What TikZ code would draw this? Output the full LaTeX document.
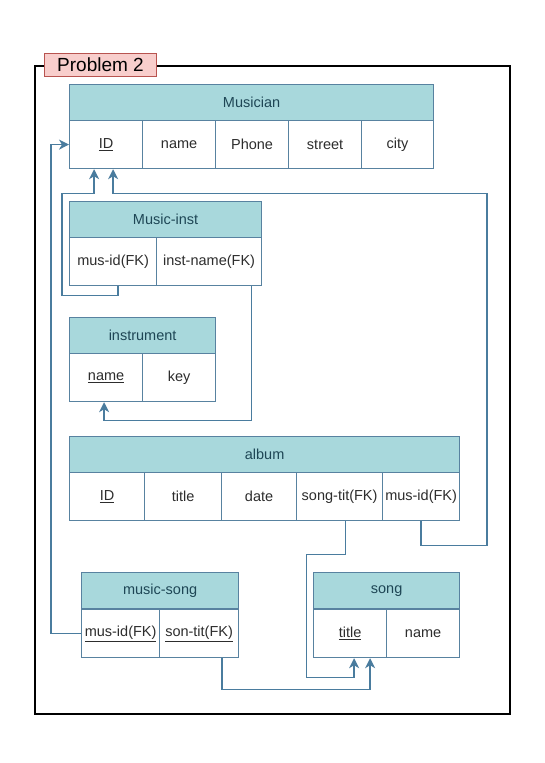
\documentclass[tikz,border=0pt]{standalone}
\usepackage{fontspec}
\setmainfont{Liberation Sans}
\usetikzlibrary{
    arrows.meta,        % arrow tips
    calc,               % coordinate calculations
    positioning         % relative placement
}

\definecolor{headfill}{RGB}{168,216,220}
\definecolor{cellline}{RGB}{88,130,160}
\definecolor{fkline}{RGB}{74,124,158}
\definecolor{headtext}{RGB}{30,70,85}
\definecolor{celltext}{RGB}{45,45,45}
\definecolor{tagfill}{RGB}{248,206,204}
\definecolor{tagline}{RGB}{184,84,80}

\tikzset{
    tabhead/.style={draw=cellline, line width=1.2pt, fill=headfill, text=headtext,
        anchor=north west, inner sep=0pt, minimum height=36,
        font=\fontsize{14.5}{17}\selectfont},
    tabcell/.style={draw=cellline, line width=1.2pt, fill=white, text=celltext,
        anchor=north west, inner sep=0pt, minimum height=48,
        font=\fontsize{14.5}{17}\selectfont},
    fk/.style={draw=fkline, line width=1.3pt,
        -{Stealth[length=10pt, width=10pt, inset=3pt]}}
}

\begin{document}
\begin{tikzpicture}[x=1pt, y=-1pt]
    \useasboundingbox[fill=white] (0,0) rectangle (544,763);

    % frame of the problem
    \draw[line width=1.3pt] (35,66) rectangle (510,714);
    \node[draw=tagline, fill=tagfill, line width=1pt, anchor=north west,
        minimum width=112, minimum height=23, inner sep=0pt,
        font=\fontsize{19}{22}\selectfont] (tag) at (44,53) {Problem 2};

    % Musician
    \node[tabhead, minimum width=364] (mus) at (69,84) {Musician};
    \node[tabcell, minimum width=73] (mID) at (69,120) {\underline{ID}};
    \node[tabcell, minimum width=73] (mName) at (142,120) {name};
    \node[tabcell, minimum width=73] (mPhone) at (215,120) {Phone};
    \node[tabcell, minimum width=73] (mStreet) at (288,120) {street};
    \node[tabcell, minimum width=72] (mCity) at (361,120) {city};

    % Music-inst
    \node[tabhead, minimum width=192] (mi) at (69,201) {Music-inst};
    \node[tabcell, minimum width=87] (miMus) at (69,237) {mus-id(FK)};
    \node[tabcell, minimum width=105] (miInst) at (156,237) {inst-name(FK)};

    % instrument
    \node[tabhead, minimum width=146] (inst) at (69,317) {instrument};
    \node[tabcell, minimum width=73] (inName) at (69,353) {\underline{name}};
    \node[tabcell, minimum width=73] (inKey) at (142,353) {key};

    % album
    \node[tabhead, minimum width=390] (al) at (69,436) {album};
    \node[tabcell, minimum width=75] (alID) at (69,472) {\underline{ID}};
    \node[tabcell, minimum width=77] (alTitle) at (144,472) {title};
    \node[tabcell, minimum width=75] (alDate) at (221,472) {date};
    \node[tabcell, minimum width=86] (alSong) at (296,472) {song-tit(FK)};
    \node[tabcell, minimum width=77] (alMus) at (382,472) {mus-id(FK)};

    % music-song
    \node[tabhead, minimum width=157] (ms) at (81,572) {music-song};
    \node[tabcell, minimum width=78] (msMus) at (81,609) {\underline{mus-id(FK)}};
    \node[tabcell, minimum width=79] (msSon) at (159,609) {\underline{son-tit(FK)}};

    % song
    \node[tabhead, minimum width=146] (sg) at (313,572) {song};
    \node[tabcell, minimum width=73] (sgTitle) at (313,609) {\underline{title}};
    \node[tabcell, minimum width=73] (sgName) at (386,609) {name};

    % foreign keys
    \draw[fk] (msMus.west) -- ++(-30,0) |- (mID.west);
    \draw[fk] ([xshift=5pt]miMus.south) -- ++(0,9) -| ++(-56,-102)
        -| ([xshift=-12pt]mID.south);
    \draw[fk] (alMus.south) -- ++(0,24) -| ++(66,-352)
        -| ([xshift=7pt]mID.south);
    \draw[fk] ([xshift=-11pt]miInst.south east) -- ++(0,134)
        -| ([xshift=-2pt]inName.south);
    \draw[fk] ([xshift=6pt]alSong.south) -- ++(0,33) -| ++(-39,123)
        -| ([xshift=4pt]sgTitle.south);
    \draw[fk] ([xshift=23pt]msSon.south) -- ++(0,31)
        -| ([xshift=20pt]sgTitle.south);

\end{tikzpicture}
\end{document}
